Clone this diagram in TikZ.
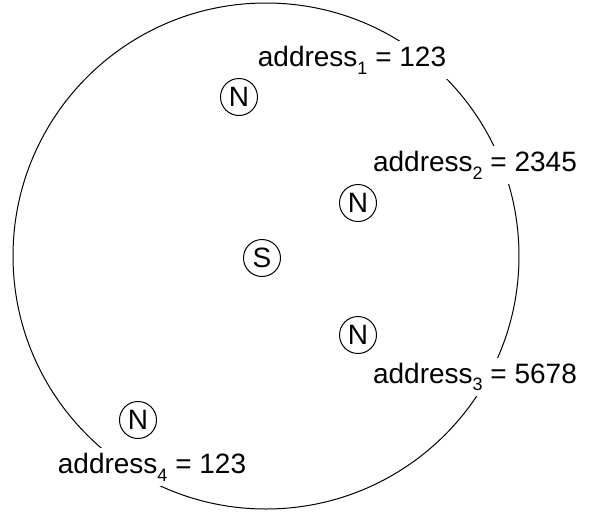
\documentclass[tikz,border=0pt]{standalone}
\usepackage{fontspec}
\setmainfont{Liberation Sans}
% lowered index after a word
\newcommand{\idx}[1]{\raisebox{-0.28em}{\fontsize{18}{20}\selectfont #1}}
\begin{document}
\begin{tikzpicture}[x=1pt,y=-1pt,
  every node/.style={font=\fontsize{28}{32}\selectfont},
  peer/.style={draw, circle, line width=1pt, minimum size=37pt, inner sep=0pt},
  addr/.style={fill=white, inner sep=5pt}]
  \useasboundingbox (0,0) rectangle (590,512);
  % the ring
  \node[draw, circle, line width=1pt, minimum size=506pt, inner sep=0pt] (ring) at (266,256) {};
  % participants
  \node[peer] (s)  at (262,258) {S};
  \node[peer] (n1) at (239,97)  {N};
  \node[peer] (n2) at (358,203) {N};
  \node[peer] (n3) at (358,335) {N};
  \node[peer] (n4) at (138,420) {N};
  % addresses
  \node[addr] (a1) at (352,60)  {address\idx{1} = 123};
  \node[addr] (a2) at (475,165) {address\idx{2} = 2345};
  \node[addr] (a3) at (475,377) {address\idx{3} = 5678};
  \node[addr] (a4) at (152,467) {address\idx{4} = 123};
\end{tikzpicture}
\end{document}
